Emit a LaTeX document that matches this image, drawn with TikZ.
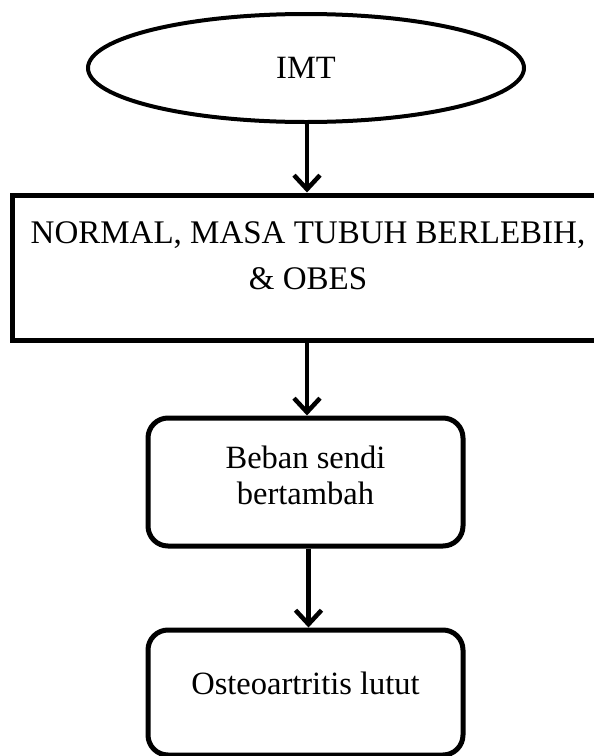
\documentclass[tikz,border=0pt]{standalone}
\usepackage{fontspec}
\setmainfont{Liberation Serif}
\usetikzlibrary{shapes.geometric,arrows.meta}
\begin{document}
\begin{tikzpicture}[x=1pt,y=-1pt,
  lbl/.style={font=\fontsize{32.5}{38}\selectfont, align=center, inner sep=0pt},
  flowbox/.style={draw, line width=5pt, rounded corners=20pt, minimum width=315pt, inner sep=0pt},
  flowarrow/.style={line width=4.5pt, -{Straight Barb[length=14pt,width=26pt,line width=4.5pt]}}]
\useasboundingbox (0,0) rectangle (594,756);
\fill[white] (0,0) rectangle (594,756);
% ellipse
\node[draw, ellipse, line width=4pt, minimum width=436pt, minimum height=108pt, inner sep=0pt] (e) at (306,68) {};
\node[lbl] (et) at (306,68) {IMT};
% wide rectangle
\node[draw, line width=5pt, minimum width=590pt, minimum height=145pt, inner sep=0pt] (r) at (307,267.5) {};
\node[lbl, font=\fontsize{33}{46}\selectfont] (rt) at (308,256) {NORMAL, MASA TUBUH BERLEBIH,\\ \& OBES};
% box 1
\node[flowbox, minimum height=128pt] (b1) at (305.5,482) {};
\node[lbl, font=\fontsize{32.5}{36}\selectfont] (b1t) at (305.5,475) {Beban sendi\\ bertambah};
% box 2
\node[flowbox, minimum height=125pt] (b2) at (305.5,692.5) {};
\node[lbl] (b2t) at (305.5,683) {Osteoartritis lutut};
% arrows
\draw[flowarrow] ([xshift=1pt]e.south) -- ([xshift=1pt]e.south |- r.north);
\draw[flowarrow] (r.south) -- (r.south |- b1.north);
\draw[flowarrow] ([xshift=3pt]b1.south) -- ([xshift=3pt]b2.north);
\end{tikzpicture}
\end{document}
